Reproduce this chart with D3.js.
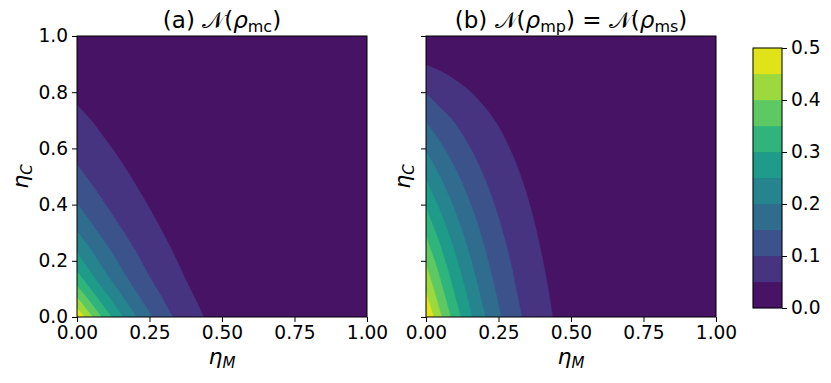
<!DOCTYPE html>
<html><head><meta charset="utf-8">
<script src="https://cdn.jsdelivr.net/npm/d3@7"></script>
<style>
body{margin:0;background:#fff}
svg{display:block}
text{font-family:"DejaVu Sans",sans-serif;fill:#000}
</style>
</head><body>
<svg id="c" width="831" height="383"></svg>
<script>
// contour levels (colour bands)
const levels = [0, 0.05, 0.10, 0.15, 0.20, 0.25, 0.30, 0.35, 0.40, 0.45, 0.50];
const xTicks = [0, 0.25, 0.5, 0.75, 1.0];
const yTicks = [0, 0.2, 0.4, 0.6, 0.8, 1.0];
const cbTicks = [0, 0.1, 0.2, 0.3, 0.4, 0.5];

// contour boundaries: [eta_M, eta_C], level 0.05 ... 0.45
const boundA = [
  [[.437,0],[.423,.032],[.405,.07],[.385,.111],[.361,.163],[.331,.23],[.293,.306],[.24,.405],[.159,.543],[.096,.635],[.045,.705],[0,.754]],
  [[.331,0],[.313,.032],[.293,.07],[.269,.111],[.240,.163],[.205,.23],[.159,.306],[.096,.405],[.054,.468],[0,.543]],
  [[.260,0],[.240,.032],[.217,.07],[.191,.111],[.159,.163],[.120,.23],[.069,.306],[.038,.352],[0,.405]],
  [[.205,0],[.184,.032],[.159,.07],[.131,.111],[.096,.163],[.054,.23],[.029,.266],[0,.306]],
  [[.159,0],[.137,.032],[.111,.07],[.081,.111],[.045,.163],[.023,.195],[0,.23]],
  [[.120,0],[.096,.032],[.069,.07],[.038,.111],[.020,.136],[0,.163]],
  [[.085,0],[.061,.032],[.033,.07],[.017,.09],[0,.111]],
  [[.054,0],[.029,.032],[.015,.051],[0,.07]],
  [[.026,0],[.013,.016],[0,.032]]
];
const boundB = [
  [[.437,0],[.423,.09],[.405,.19],[.385,.288],[.361,.388],[.331,.488],[.293,.59],[.24,.695],[.159,.796],[.096,.847],[.045,.877],[0,.897]],
  [[.331,0],[.313,.09],[.293,.19],[.269,.288],[.240,.388],[.205,.488],[.159,.59],[.096,.695],[.054,.74],[0,.796]],
  [[.260,0],[.240,.09],[.217,.19],[.191,.288],[.159,.388],[.120,.488],[.069,.59],[.038,.64],[0,.695]],
  [[.205,0],[.184,.09],[.159,.19],[.131,.288],[.096,.388],[.054,.488],[.029,.538],[0,.59]],
  [[.159,0],[.137,.09],[.111,.19],[.081,.288],[.045,.388],[.023,.437],[0,.488]],
  [[.120,0],[.096,.09],[.069,.19],[.038,.288],[.020,.336],[0,.388]],
  [[.085,0],[.061,.09],[.033,.19],[.017,.237],[0,.288]],
  [[.054,0],[.029,.09],[.015,.137],[0,.19]],
  [[.026,0],[.013,.045],[0,.09]]
];

const svg = d3.select("#c");
const nb = levels.length - 1;
const color = i => d3.interpolateViridis((i + 0.5) / nb);

const panels = [
  {x0: 77, bounds: boundA, title: "a", sub: ["mc"], ylab: true, yl: 49},
  {x0: 426, bounds: boundB, title: "b", sub: ["mp", "ms"], ylab: false, yl: 16}
];
const PW = 290, PTOP = 36, PBOT = 317;
const TF = 18.6;

panels.forEach((p, pi) => {
  const x = d3.scaleLinear().domain([0, 1]).range([p.x0, p.x0 + PW]);
  const y = d3.scaleLinear().domain([0, 1]).range([PBOT, PTOP]);
  const g = svg.append("g");
  const cid = "clip" + pi;
  g.append("clipPath").attr("id", cid).append("rect")
    .attr("x", x(0)).attr("y", y(1)).attr("width", PW).attr("height", PBOT - PTOP);
  const cg = g.append("g").attr("clip-path", `url(#${cid})`);
  cg.append("rect").attr("x", x(0)).attr("y", y(1)).attr("width", PW).attr("height", PBOT - PTOP)
    .attr("fill", color(0));
  const line = d3.line().x(d => x(d[0])).y(d => y(d[1])).curve(d3.curveCatmullRom.alpha(0.5));
  p.bounds.forEach((pts, k) => {
    cg.append("path")
      .attr("d", line(pts) + `L${x(0)},${y(0)}Z`)
      .attr("fill", color(k + 1))
      .attr("stroke", color(k + 1)).attr("stroke-width", 0.4);
  });
  // axes
  const ax = g.append("g").attr("transform", `translate(0,${PBOT})`)
    .call(d3.axisBottom(x).tickValues(xTicks).tickFormat(d3.format(".2f")).tickSize(5).tickPadding(4));
  const ay = g.append("g").attr("transform", `translate(${x(0)},0)`)
    .call(d3.axisLeft(y).tickValues(yTicks).tickFormat(p.ylab ? d3.format(".1f") : () => "").tickSize(5).tickPadding(4));
  [ax, ay].forEach(a => {
    a.select(".domain").remove();
    a.selectAll("line").attr("stroke", "#000").attr("stroke-width", 1);
    a.selectAll("text").attr("font-size", TF).attr("font-family", "DejaVu Sans").attr("fill", "#000");
  });
  ax.selectAll("text").attr("dy", "0.72em");
  g.append("rect").attr("x", x(0)).attr("y", y(1)).attr("width", PW).attr("height", PBOT - PTOP)
    .attr("fill", "none").attr("stroke", "#000").attr("stroke-width", 1);

  // x label
  const xl = g.append("text").attr("x", x(0.5)).attr("y", 364).attr("text-anchor", "middle").attr("font-size", 22);
  xl.append("tspan").attr("font-style", "italic").text("η");
  xl.append("tspan").attr("font-style", "italic").attr("font-size", 15).attr("dy", 4).text("M");
  // y label
  const yl = g.append("text").attr("transform", `translate(${p.x0 - p.yl},${y(0.5)}) rotate(-90)`)
    .attr("text-anchor", "middle").attr("font-size", 22);
  yl.append("tspan").attr("font-style", "italic").text("η");
  yl.append("tspan").attr("font-style", "italic").attr("font-size", 15).attr("dy", 4).text("C");

  // title
  const t = g.append("text").attr("x", x(0.5)).attr("y", 28).attr("text-anchor", "middle").attr("font-size", 23);
  t.append("tspan").text(`(${p.title}) `);
  p.sub.forEach((s, si) => {
    if (si > 0) t.append("tspan").text(" = ");
    t.append("tspan").text("𝒩(");
    t.append("tspan").attr("font-style", "italic").text("ρ");
    t.append("tspan").attr("font-size", 16).attr("dy", 4).text(s);
    t.append("tspan").attr("dy", -4).text(")");
  });
});

// colorbar
const cb = {x: 753, w: 29, top: 48, bottom: 308};
const cy = d3.scaleLinear().domain([0, 0.5]).range([cb.bottom, cb.top]);
const cbg = svg.append("g");
cbg.selectAll("rect.band").data(d3.range(nb)).join("rect")
  .attr("x", cb.x).attr("width", cb.w)
  .attr("y", i => cy(levels[i + 1])).attr("height", i => cy(levels[i]) - cy(levels[i + 1]))
  .attr("fill", i => color(i)).attr("stroke", i => color(i)).attr("stroke-width", 0.3);
cbg.append("rect").attr("x", cb.x).attr("y", cb.top).attr("width", cb.w).attr("height", cb.bottom - cb.top)
  .attr("fill", "none").attr("stroke", "#000").attr("stroke-width", 1);
const ca = cbg.append("g").attr("transform", `translate(${cb.x + cb.w},0)`)
  .call(d3.axisRight(cy).tickValues(cbTicks).tickFormat(d3.format(".1f")).tickSize(5).tickPadding(4));
ca.select(".domain").remove();
ca.selectAll("line").attr("stroke", "#000");
ca.selectAll("text").attr("font-size", TF).attr("font-family", "DejaVu Sans").attr("fill", "#000");
</script>
</body></html>
